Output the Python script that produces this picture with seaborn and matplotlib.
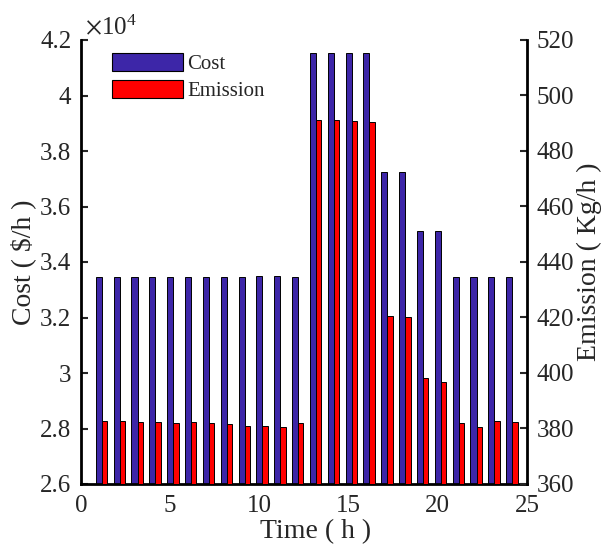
import numpy as np
import pandas as pd
import seaborn as sns
import matplotlib.pyplot as plt
from matplotlib.patches import Patch

# ------------------------
# Data
# ------------------------
hours = list(range(1, 25))
cost = [33460, 33460, 33460, 33460, 33460, 33460, 33460, 33460, 33460, 33480, 33480, 33460,
        41530, 41530, 41530, 41530, 37250, 37250, 35130, 35130, 33460, 33460, 33470, 33460]
emission = [382.7, 382.6, 382.5, 382.3, 382.0, 382.3, 381.9, 381.8, 380.9, 380.8, 380.7, 381.9,
            491.2, 491.0, 490.8, 490.6, 420.6, 420.3, 398.2, 396.7, 381.9, 380.7, 382.6, 382.3]

df = pd.DataFrame({'hour': hours, 'cost': cost, 'emission': emission})
df['hour_em'] = df['hour'] + 0.32

sns.set_style('white')
plt.rcParams['font.family'] = ['Liberation Serif', 'DejaVu Serif']
plt.rcParams['mathtext.fontset'] = 'stix'

blue = '#3d26a8'
red = '#ff0000'

fig = plt.figure(figsize=(6.06, 5.49), dpi=100)
ax = fig.add_axes([81/606, 1 - 484/549, (527 - 81)/606, (484 - 40)/549])

sns.barplot(data=df, x='hour', y='cost', native_scale=True, width=0.34,
            color=blue, saturation=1, edgecolor='black', linewidth=0.7, ax=ax)
ax2 = ax.twinx()
sns.barplot(data=df, x='hour_em', y='emission', native_scale=True, width=0.3,
            color=red, saturation=1, edgecolor='black', linewidth=0.7, ax=ax2)

ax.set_xlim(0, 25)
ax.set_ylim(26000, 42000)
ax2.set_ylim(360, 520)
ax.set_xticks([0, 5, 10, 15, 20, 25])
ax.set_xticklabels(['0', '5', '10', '15', '20', '25'])
ax.set_yticks(np.arange(26000, 42001, 2000))
ax.set_yticklabels([f'{v/1e4:g}' for v in np.arange(26000, 42001, 2000)])
ax2.set_yticks(np.arange(360, 521, 20))

ax.set_xlabel('Time ( h )', fontsize=20)
ax.xaxis.set_label_coords(0.525, -0.08, transform=ax.transAxes)
ax.xaxis.label.set_va('top')
ax.set_ylabel('Cost ( $/h )', fontsize=20, labelpad=3)
ax2.set_ylabel('Emission ( Kg/h )', fontsize=20, labelpad=2)

for a in (ax, ax2):
    a.tick_params(direction='in', length=5, width=1.5, labelsize=18, pad=7)
    for s in a.spines.values():
        s.set_visible(False)
ax.tick_params(axis='x', pad=8, length=0)
ax.spines['left'].set_visible(True)
ax.spines['bottom'].set_visible(True)
ax2.spines['right'].set_visible(True)
for s in (ax.spines['left'], ax.spines['bottom'], ax2.spines['right']):
    s.set_linewidth(2)
    s.set_color('black')
ax.tick_params(axis='y', right=False)
ax2.tick_params(axis='y', left=False, labelleft=False)

ax.text(0.008, 1.0, r'$\times\mathregular{10}^{\mathregular{4}}$', transform=ax.transAxes,
        fontsize=18, ha='left', va='bottom')

handles = [Patch(facecolor=blue, edgecolor='black', linewidth=0.8, label='Cost'),
           Patch(facecolor=red, edgecolor='black', linewidth=0.8, label='Emission')]
ax2.legend(handles=handles, loc='upper left', bbox_to_anchor=(0.07, 0.97), frameon=False,
           fontsize=15, handlelength=3.4, handleheight=0.9, handletextpad=0.2,
           labelspacing=0.3, borderaxespad=0, borderpad=0)

fig.savefig('out.png', dpi=100)
